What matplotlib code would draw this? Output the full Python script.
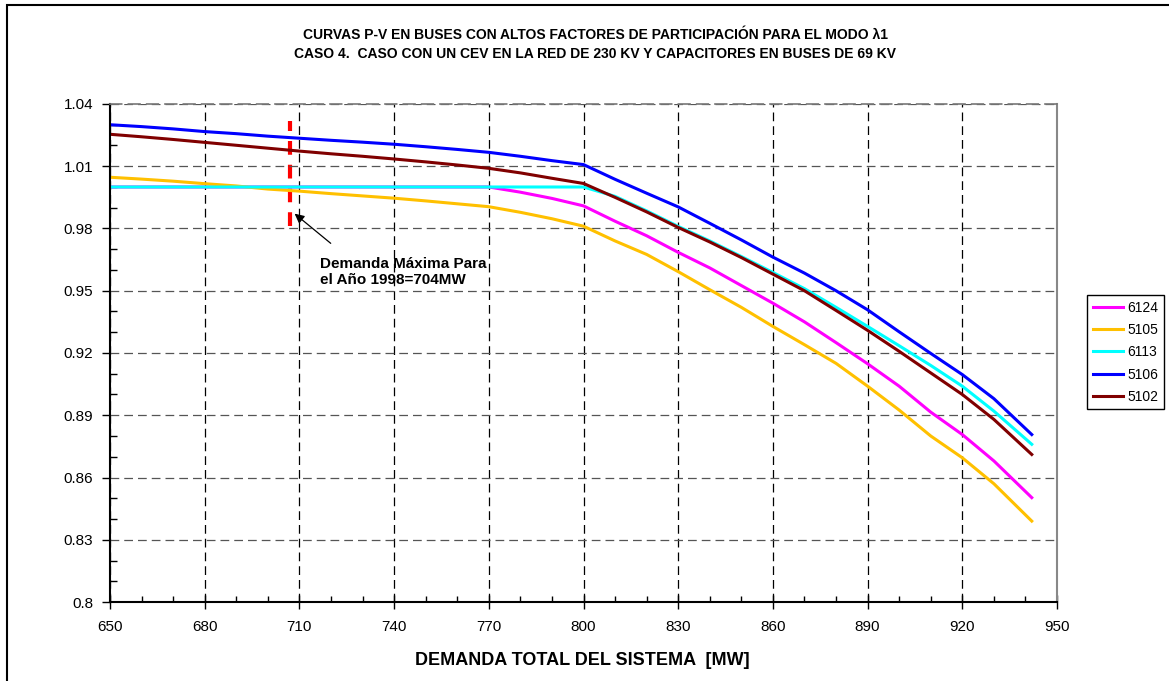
import matplotlib
matplotlib.use("Agg")
import matplotlib.pyplot as plt
from matplotlib.patches import Rectangle
from matplotlib.ticker import MultipleLocator, FixedLocator, FixedFormatter

plt.rcParams['font.family'] = ['Liberation Sans', 'DejaVu Sans']

# demanda total del sistema [MW]
demanda = [650, 660, 670, 680, 690, 700, 710, 720, 730, 740, 750, 760, 770, 780, 790,
           800, 810, 820, 830, 840, 850, 860, 870, 880, 890, 900, 910, 920, 930, 942]

# voltajes (p.u.) por bus
v_6124 = [1.000, 1.000, 1.000, 1.000, 1.000, 1.000, 1.000, 1.000, 1.000, 1.000, 1.000, 1.000, 1.000, 0.9975, 0.9945,
          0.9909, 0.9835, 0.9765, 0.9685, 0.9610, 0.9525, 0.9440, 0.9350, 0.9250, 0.9148, 0.9040, 0.8915, 0.8807, 0.8680, 0.8503]
v_5105 = [1.0047, 1.0038, 1.0028, 1.0016, 1.0005, 0.9990, 0.9980, 0.9968, 0.9957, 0.9946, 0.9933, 0.9919, 0.9905, 0.9878, 0.9847,
          0.9811, 0.9740, 0.9675, 0.9592, 0.9505, 0.9420, 0.9328, 0.9240, 0.9150, 0.9040, 0.8925, 0.8800, 0.8695, 0.8570, 0.8390]
v_6113 = [1.000, 1.000, 1.000, 1.000, 1.000, 1.000, 1.000, 1.000, 1.000, 1.000, 1.000, 1.000, 1.000, 1.000, 1.000,
          1.000, 0.9955, 0.9885, 0.9810, 0.9740, 0.9665, 0.9588, 0.9510, 0.9420, 0.9328, 0.9235, 0.9140, 0.9040, 0.8920, 0.8760]
v_5106 = [1.0300, 1.0291, 1.0280, 1.0267, 1.0257, 1.0245, 1.0235, 1.0225, 1.0216, 1.0206, 1.0194, 1.0181, 1.0167, 1.0148, 1.0127,
          1.0108, 1.0037, 0.9970, 0.9904, 0.9825, 0.9745, 0.9662, 0.9585, 0.9500, 0.9408, 0.9302, 0.9198, 0.9096, 0.8980, 0.8807]
v_5102 = [1.0254, 1.0242, 1.0229, 1.0215, 1.0201, 1.0187, 1.0173, 1.0160, 1.0148, 1.0135, 1.0121, 1.0106, 1.0090, 1.0068, 1.0042,
          1.0017, 0.9950, 0.9880, 0.9805, 0.9735, 0.9660, 0.9580, 0.9500, 0.9405, 0.9309, 0.9208, 0.9104, 0.9000, 0.8880, 0.8711]

series = [('6124', v_6124, '#FF00FF'),
          ('5105', v_5105, '#FFC000'),
          ('6113', v_6113, '#00FFFF'),
          ('5106', v_5106, '#0000FF'),
          ('5102', v_5102, '#800000')]

x_ticks = [650, 680, 710, 740, 770, 800, 830, 860, 890, 920, 950]
y_ticks = [0.8, 0.83, 0.86, 0.89, 0.92, 0.95, 0.98, 1.01, 1.04]
y_labels = ['0.8', '0.83', '0.86', '0.89', '0.92', '0.95', '0.98', '1.01', '1.04']

# linea de demanda maxima (posicion)
demanda_max = 707
v_rango = [0.981, 1.032]

fig = plt.figure(figsize=(11.69, 6.81), dpi=100)
ax = fig.add_axes([0.0941, 0.1160, 0.8101, 0.7313])

ax.plot([demanda_max, demanda_max], v_rango, color='#FF0000', lw=3.0, ls=(0, (3.3, 2.4)),
        solid_capstyle='butt', zorder=1.5)

for name, v, c in series:
    ax.plot(demanda, v, color=c, lw=2.2, label=name, zorder=2)

ax.set_xlim(650, 950)
ax.set_ylim(0.8, 1.04)
ax.xaxis.set_major_locator(FixedLocator(x_ticks))
ax.xaxis.set_minor_locator(MultipleLocator(10))
ax.yaxis.set_major_locator(FixedLocator(y_ticks))
ax.yaxis.set_major_formatter(FixedFormatter(y_labels))
ax.yaxis.set_minor_locator(MultipleLocator(0.01))

ax.grid(axis='x', which='major', color='black', ls=(0, (7, 4)), lw=0.9)
ax.grid(axis='y', which='major', color='#555555', ls=(0, (7, 4)), lw=0.9)

ax.tick_params(axis='x', which='major', direction='inout', length=10, width=1, pad=8, labelsize=11)
ax.tick_params(axis='x', which='minor', direction='in', length=4, width=1)
ax.tick_params(axis='y', which='major', direction='out', length=6, width=1, pad=6, labelsize=11)
ax.tick_params(axis='y', which='minor', direction='in', length=5, width=1)

for s in ['left', 'bottom']:
    ax.spines[s].set_linewidth(1.5)
    ax.spines[s].set_color('black')
ax.spines['right'].set_color('#888888')
ax.spines['right'].set_linewidth(1.5)
ax.spines['top'].set_color('#777777')
ax.spines['top'].set_linestyle((0, (7, 4)))
ax.spines['top'].set_linewidth(1.2)

ax.annotate('', xy=(707.8, 0.988), xytext=(720.6, 0.972),
            arrowprops=dict(arrowstyle='-|>', color='black', lw=0.9, mutation_scale=14))
ax.text(716.5, 0.9665, 'Demanda Máxima Para\nel Año 1998=704MW', fontsize=11, fontweight='bold',
        ha='left', va='top', linespacing=1.25)

fig.text(0.509, 0.9486, 'CURVAS P-V EN BUSES CON ALTOS FACTORES DE PARTICIPACIÓN PARA EL MODO λ1',
         ha='center', va='center', fontsize=10, fontweight='bold')
fig.text(0.509, 0.9207, 'CASO 4.  CASO CON UN CEV EN LA RED DE 230 KV Y CAPACITORES EN BUSES DE 69 KV',
         ha='center', va='center', fontsize=10, fontweight='bold')
fig.text(0.498, 0.0308, 'DEMANDA TOTAL DEL SISTEMA  [MW]', ha='center', va='center',
         fontsize=13, fontweight='bold')

leg = ax.legend(loc='upper left', bbox_to_anchor=(1087 / 1169, 1 - 295 / 681),
                bbox_transform=fig.transFigure, fontsize=10, frameon=True, fancybox=False,
                edgecolor='black', framealpha=1, borderpad=0.4, handlelength=2.2,
                handletextpad=0.3, labelspacing=0.6, borderaxespad=0)
leg.get_frame().set_linewidth(1.0)

fig.patches.append(Rectangle((7 / 1169, -0.05), 1.2, 1.05 - 5 / 681, transform=fig.transFigure,
                             fill=False, edgecolor='black', lw=1.5, zorder=0))

fig.savefig('out.png', dpi=100)
